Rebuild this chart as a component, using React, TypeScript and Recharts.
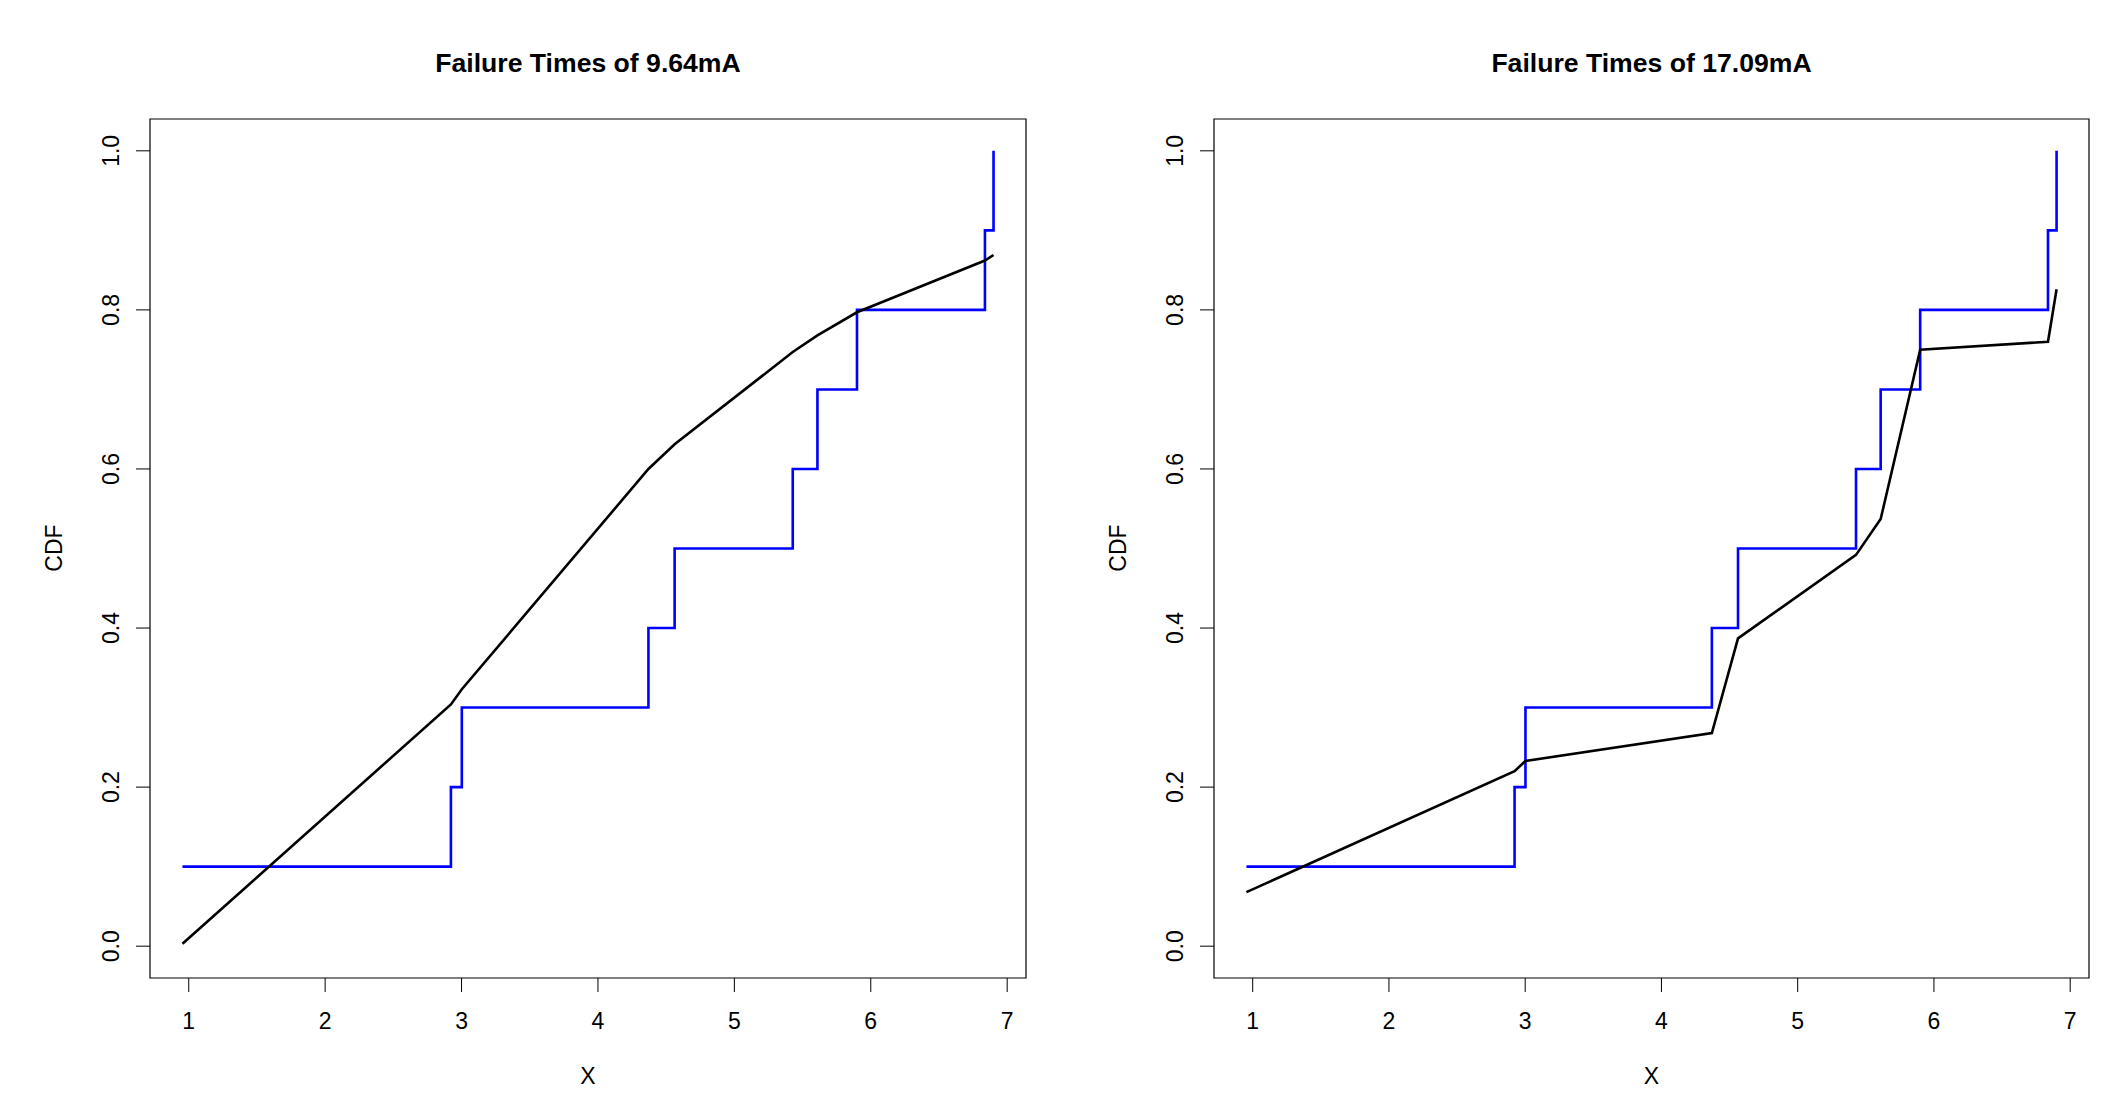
import React from "react";
import { LineChart, Line, XAxis, YAxis, ReferenceArea } from "recharts";

// sorted log failure times (shared by both panels)
const failureX = [0.954, 2.922, 3.002, 4.37, 4.562, 5.428, 5.609, 5.899, 6.837, 6.9];
// empirical CDF
const ecdfY = [0.1, 0.2, 0.3, 0.4, 0.5, 0.6, 0.7, 0.8, 0.9, 1.0];
// fitted CDF, 9.64mA
const fitLow = [0.003, 0.304, 0.323, 0.6, 0.631, 0.747, 0.768, 0.797, 0.862, 0.869];
// fitted CDF, 17.09mA
const fitHigh = [0.068, 0.22, 0.233, 0.268, 0.387, 0.492, 0.537, 0.75, 0.76, 0.826];

const titles = ["Failure Times of 9.64mA", "Failure Times of 17.09mA"];
const xTicks = [1, 2, 3, 4, 5, 6, 7];
const yTicks = [0, 0.2, 0.4, 0.6, 0.8, 1.0];
const xDomain = [0.716, 7.138];
const yDomain = [-0.04, 1.04];

const FONT = '"Liberation Sans", Arial, Helvetica, sans-serif';
const LABEL_SIZE = 23;

const YTick = (props: any) => {
  const { x, y, payload } = props;
  return (
    <text
      x={x}
      y={y}
      transform={`rotate(-90, ${x}, ${y})`}
      textAnchor="middle"
      fontSize={LABEL_SIZE}
      fontFamily={FONT}
      fill="#000"
    >
      {payload.value.toFixed(1)}
    </text>
  );
};

function Panel({ fit, left, marginLeft, marginRight }: { fit: number[]; left: number; marginLeft: number; marginRight: number }) {
  const data = failureX.map((x, i) => ({ x, ecdf: ecdfY[i], fit: fit[i] }));
  return (
    <div style={{ position: "absolute", left, top: 0 }}>
      <LineChart
        width={1061}
        height={1118}
        data={data}
        margin={{ top: 119, right: marginRight, bottom: 80, left: marginLeft }}
      >
        <XAxis
          dataKey="x"
          type="number"
          domain={xDomain}
          ticks={xTicks}
          height={60}
          axisLine={false}
          tickLine={{ stroke: "#000", strokeWidth: 1 }}
          tickSize={14}
          tickMargin={21}
          tick={{ fontSize: LABEL_SIZE, fontFamily: FONT, fill: "#000" }}
        />
        <YAxis
          type="number"
          domain={yDomain}
          ticks={yTicks}
          width={60}
          axisLine={false}
          tickLine={{ stroke: "#000", strokeWidth: 1 }}
          tickSize={14}
          tickMargin={17}
          tick={<YTick />}
        />
        <ReferenceArea
          x1={xDomain[0]}
          x2={xDomain[1]}
          y1={yDomain[0]}
          y2={yDomain[1]}
          fill="none"
          stroke="#000"
          strokeWidth={1.2}
          ifOverflow="visible"
        />
        <Line
          dataKey="ecdf"
          type="stepAfter"
          stroke="#0000ff"
          strokeWidth={2.6}
          dot={false}
          activeDot={false}
          isAnimationActive={false}
        />
        <Line
          dataKey="fit"
          type="linear"
          stroke="#000"
          strokeWidth={2.6}
          dot={false}
          activeDot={false}
          isAnimationActive={false}
        />
      </LineChart>
    </div>
  );
}

export default function App() {
  const centers = [588, 1651.5];
  const cdfX = [62, 1126];
  return (
    <div style={{ position: "absolute", left: 0, top: 0, width: 2122, height: 1118, background: "#fff" }}>
      <Panel fit={fitLow} left={0} marginLeft={90} marginRight={35} />
      <Panel fit={fitHigh} left={1061} marginLeft={93} marginRight={33} />
      <svg
        width={2122}
        height={1118}
        style={{ position: "absolute", left: 0, top: 0, pointerEvents: "none" }}
        fontFamily={FONT}
      >
        {titles.map((t, i) => (
          <text key={t} x={centers[i]} y={72} textAnchor="middle" fontSize={26.6} fontWeight="bold" fill="#000">
            {t}
          </text>
        ))}
        {centers.map((c, i) => (
          <text key={"x" + i} x={c} y={1084} textAnchor="middle" fontSize={LABEL_SIZE} fill="#000">
            X
          </text>
        ))}
        {cdfX.map((x, i) => (
          <text
            key={"c" + i}
            x={x}
            y={548}
            transform={`rotate(-90, ${x}, 548)`}
            textAnchor="middle"
            fontSize={LABEL_SIZE}
            fill="#000"
          >
            CDF
          </text>
        ))}
      </svg>
    </div>
  );
}
